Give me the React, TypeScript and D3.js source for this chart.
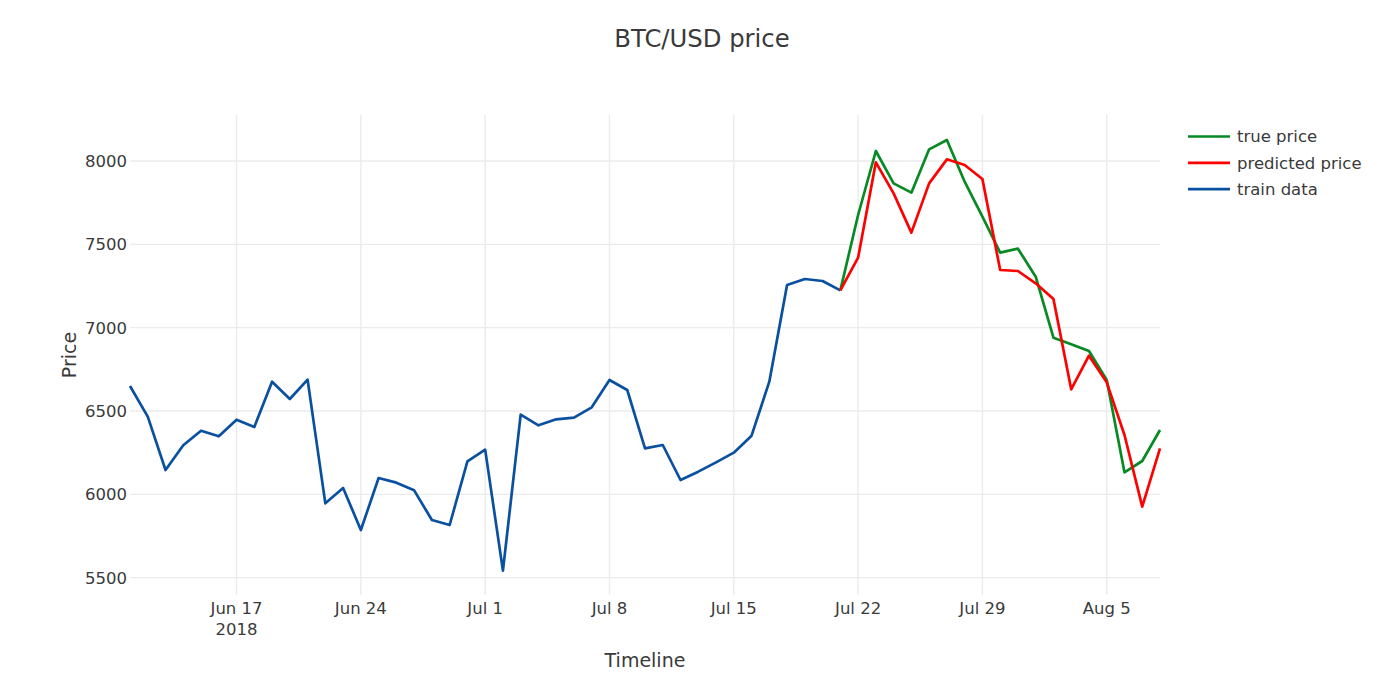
import React from "react";
import * as d3 from "d3";

// train data: Jun 11 - Jul 21 2018
const trainDates = [
  "2018-06-11", "2018-06-12", "2018-06-13", "2018-06-14", "2018-06-15",
  "2018-06-16", "2018-06-17", "2018-06-18", "2018-06-19", "2018-06-20",
  "2018-06-21", "2018-06-22", "2018-06-23", "2018-06-24", "2018-06-25",
  "2018-06-26", "2018-06-27", "2018-06-28", "2018-06-29", "2018-06-30",
  "2018-07-01", "2018-07-02", "2018-07-03", "2018-07-04", "2018-07-05",
  "2018-07-06", "2018-07-07", "2018-07-08", "2018-07-09", "2018-07-10",
  "2018-07-11", "2018-07-12", "2018-07-13", "2018-07-14", "2018-07-15",
  "2018-07-16", "2018-07-17", "2018-07-18", "2018-07-19", "2018-07-20",
  "2018-07-21",
];
const trainPrices = [
  6650, 6466, 6146, 6294, 6382, 6348, 6448, 6404, 6676, 6572,
  6688, 5946, 6038, 5786, 6098, 6070, 6024, 5846, 5816, 6198,
  6268, 5542, 6478, 6414, 6450, 6460, 6522, 6686, 6626, 6276,
  6296, 6086, 6136, 6192, 6250, 6352, 6676, 7256, 7292, 7280,
  7224,
];

// test period: Jul 21 - Aug 8 2018
const testDates = [
  "2018-07-21", "2018-07-22", "2018-07-23", "2018-07-24", "2018-07-25",
  "2018-07-26", "2018-07-27", "2018-07-28", "2018-07-29", "2018-07-30",
  "2018-07-31", "2018-08-01", "2018-08-02", "2018-08-03", "2018-08-04",
  "2018-08-05", "2018-08-06", "2018-08-07", "2018-08-08",
];
const truePrices = [
  7224, 7676, 8060, 7866, 7810, 8070, 8126, 7876, 7666, 7450,
  7474, 7306, 6940, 6900, 6860, 6686, 6132, 6200, 6386,
];
const predictedPrices = [
  7224, 7420, 7992, 7806, 7570, 7866, 8010, 7976, 7892, 7346,
  7340, 7266, 7172, 6630, 6832, 6672, 6356, 5926, 6276,
];

const xTickDates = [
  "2018-06-17", "2018-06-24", "2018-07-01", "2018-07-08",
  "2018-07-15", "2018-07-22", "2018-07-29", "2018-08-05",
];
const yTicks = [5500, 6000, 6500, 7000, 7500, 8000];

const seriesInfo = [
  { name: "true price", color: "#078a24" },
  { name: "predicted price", color: "#ff0000" },
  { name: "train data", color: "#0a50a0" },
];

const parse = d3.timeParse("%Y-%m-%d");
const fmt = d3.timeFormat("%b %-d");

const W = 1400;
const H = 677;
const plot = { left: 130, right: 1160, top: 115, bottom: 595 };
const font = "'DejaVu Sans', Verdana, sans-serif";
const textColor = "#3a3a3a";

export default function App() {
  const x = d3
    .scaleTime()
    .domain([parse("2018-06-11")!, parse("2018-08-08")!])
    .range([plot.left, plot.right]);
  const y = d3
    .scaleLinear()
    .domain([5396, 8276])
    .range([plot.bottom, plot.top]);

  const line = d3
    .line<[Date, number]>()
    .x((d) => x(d[0]))
    .y((d) => y(d[1]));

  const train = trainDates.map((d, i) => [parse(d)!, trainPrices[i]] as [Date, number]);
  const truth = testDates.map((d, i) => [parse(d)!, truePrices[i]] as [Date, number]);
  const pred = testDates.map((d, i) => [parse(d)!, predictedPrices[i]] as [Date, number]);

  return (
    <div style={{ position: "absolute", left: 0, top: 0 }}>
      <svg width={W} height={H} style={{ display: "block", background: "#fff" }}>
        {/* grid */}
        <g stroke="#ebebeb" strokeWidth={1.4}>
          {yTicks.map((t) => (
            <line key={t} x1={plot.left} x2={plot.right} y1={y(t)} y2={y(t)} />
          ))}
          {xTickDates.map((t) => (
            <line key={t} x1={x(parse(t)!)} x2={x(parse(t)!)} y1={plot.top} y2={plot.bottom} />
          ))}
        </g>

        {/* y ticks */}
        <g fontFamily={font} fontSize={16.5} fill={textColor} textAnchor="end">
          {yTicks.map((t) => (
            <text key={t} x={127} y={y(t)} dy="0.36em">
              {t}
            </text>
          ))}
        </g>

        {/* x ticks */}
        <g fontFamily={font} fontSize={16.5} fill={textColor} textAnchor="middle">
          {xTickDates.map((t, i) => (
            <text key={t} x={x(parse(t)!)} y={614}>
              {fmt(parse(t)!)}
              {i === 0 && (
                <tspan x={x(parse(t)!)} y={635}>
                  2018
                </tspan>
              )}
            </text>
          ))}
        </g>

        {/* lines */}
        <g fill="none" strokeWidth={2.7} strokeLinejoin="round">
          <path d={line(train)!} stroke={seriesInfo[2].color} />
          <path d={line(truth)!} stroke={seriesInfo[0].color} />
          <path d={line(pred)!} stroke={seriesInfo[1].color} />
        </g>

        {/* titles */}
        <text x={702} y={47} textAnchor="middle" fontFamily={font} fontSize={24.3} fill={textColor}>
          BTC/USD price
        </text>
        <text x={645} y={667} textAnchor="middle" fontFamily={font} fontSize={19} fill={textColor}>
          Timeline
        </text>
        <text
          transform={`translate(76,${(plot.top + plot.bottom) / 2}) rotate(-90)`}
          textAnchor="middle"
          fontFamily={font}
          fontSize={19}
          fill={textColor}
        >
          Price
        </text>

        {/* legend */}
        <g fontFamily={font} fontSize={16.5} fill={textColor}>
          {seriesInfo.map((s, i) => (
            <g key={s.name} transform={`translate(0,${136.5 + i * 26.3})`}>
              <line x1={1188} x2={1230} y1={0} y2={0} stroke={s.color} strokeWidth={2.7} />
              <text x={1237} y={0} dy="0.36em">
                {s.name}
              </text>
            </g>
          ))}
        </g>
      </svg>
    </div>
  );
}
